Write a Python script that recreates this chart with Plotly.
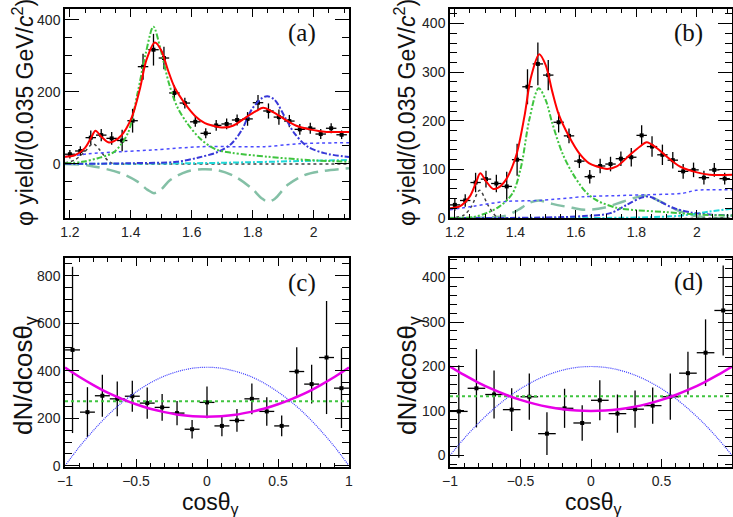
import plotly.graph_objects as go

# ---------------- panels (a),(b): phi yield vs mass ----------------
mass = [1.2000, 1.2343, 1.2686, 1.3029, 1.3372, 1.3715, 1.4058, 1.4401, 1.4744,
        1.5087, 1.5430, 1.5773, 1.6116, 1.6459, 1.6802, 1.7145, 1.7488, 1.7831,
        1.8174, 1.8517, 1.8860, 1.9203, 1.9546, 1.9889, 2.0232, 2.0575, 2.0918]
yield_vals = [27, 36, 73, 80, 71, 65, 120, 270, 317, 294, 197, 169, 117, 85, 107,
              111, 122, 125, 170, 147, 130, 119, 96, 99, 83, 99, 81]
yield_err = [12, 13, 20, 17, 18, 30, 33, 36, 44, 31, 21, 15, 14, 14, 15,
             15, 15, 19, 21, 21, 21, 17, 15, 15, 14, 14, 12]
bin_half = 0.0172

# total fit (red)
fit_x = [1.184, 1.216, 1.249, 1.271, 1.284, 1.304, 1.326, 1.342, 1.369, 1.402, 1.43,
         1.451, 1.479, 1.5, 1.522, 1.544, 1.577, 1.61, 1.643, 1.67, 1.703, 1.735,
         1.779, 1.812, 1.834, 1.867, 1.899, 1.943, 1.987, 2.042, 2.116]
fit_y = [20, 24, 44, 75, 92, 75, 60, 62, 79, 127, 209, 288, 337, 315, 260, 212, 168,
         134, 113, 106, 101, 106, 130, 147, 156, 144, 127, 106, 96, 89, 89]

# (a) components
ga_x = [1.184, 1.24, 1.292, 1.346, 1.39, 1.422, 1.449, 1.474, 1.498, 1.525, 1.552,
        1.585, 1.628, 1.677, 1.731, 1.85, 1.98, 2.116]
ga_y = [1, 6, 16, 34, 85, 196, 307, 381, 317, 224, 159, 113, 70, 41, 31, 20, 11, 6]
ba_x = [1.184, 1.4, 1.55, 1.623, 1.688, 1.731, 1.764, 1.796, 1.829, 1.848, 1.872,
        1.905, 1.937, 1.98, 2.035, 2.116]
ba_y = [0, 2, 6, 18, 34, 57, 94, 150, 182, 188, 178, 131, 85, 48, 30, 19]
bga_x = [1.184, 1.26, 1.368, 1.476, 1.634, 1.731, 1.84, 1.948, 2.116]
bga_y = [20, 28, 34, 39, 48, 48, 48, 56, 59]
ka_x = [1.184, 1.216, 1.249, 1.276, 1.298, 1.325, 1.346, 1.4, 2.116]
ka_y = [3, 11, 34, 56, 39, 9, 0, 0, 0]
ia_x = [1.184, 1.26, 1.368, 1.422, 1.455, 1.476, 1.498, 1.53, 1.585, 1.634, 1.688,
        1.742, 1.797, 1.829, 1.85, 1.872, 1.915, 1.97, 2.035, 2.116]
ia_y = [0, -4, -26, -49, -72, -81, -72, -44, -21, -15, -18, -35, -68, -95, -105, -97,
        -58, -31, -19, -12]
ca_x = [1.184, 1.6, 1.8, 2.0, 2.116]
ca_y = [0, 2, 5, 9, 11]

# (b) components
gb_x = [1.184, 1.26, 1.304, 1.348, 1.391, 1.419, 1.446, 1.477, 1.5, 1.522, 1.555,
        1.588, 1.632, 1.67, 1.735, 1.8, 1.899, 2.01, 2.116]
gb_y = [0, 2, 10, 24, 51, 106, 202, 267, 243, 195, 134, 93, 54, 36, 21, 16, 12, 7, 5]
bb_x = [1.184, 1.5, 1.626, 1.714, 1.768, 1.817, 1.844, 1.877, 1.921, 1.976, 2.042, 2.116]
bb_y = [0, 1, 4, 10, 27, 42, 44, 34, 21, 12, 7, 5]
bgb_x = [1.184, 1.26, 1.369, 1.478, 1.632, 1.735, 1.844, 1.954, 1.998, 2.116]
bgb_y = [17, 24, 34, 36, 44, 46, 48, 51, 57, 58]
kb_x = [1.184, 1.23, 1.255, 1.282, 1.309, 1.337, 1.36, 2.116]
kb_y = [0, 6, 24, 57, 27, 3, 0, 0]
ib_x = [1.184, 1.3, 1.369, 1.41, 1.446, 1.478, 1.522, 1.588, 1.63, 1.692, 1.757,
        1.823, 1.844, 1.888, 1.932, 1.987, 2.06, 2.116]
ib_y = [0, 1, 5, 17, 31, 36, 29, 21, 17, 21, 34, 46, 44, 31, 17, 5, 0, 0]
cb_x = [1.184, 1.8, 1.95, 2.04, 2.116]
cb_y = [0, 1, 5, 13, 19]

# ---------------- panel (c) ----------------
cos_c = [-0.947, -0.842, -0.737, -0.632, -0.526, -0.421, -0.316, -0.211, -0.105, 0.0,
         0.105, 0.211, 0.316, 0.421, 0.526, 0.632, 0.737, 0.842, 0.947]
dn_c = [488, 226, 295, 282, 293, 264, 246, 222, 154, 267, 168, 191, 282, 229, 168,
        397, 344, 456, 327]
err_c = [350, 105, 88, 73, 65, 66, 56, 51, 39, 67, 44, 48, 65, 60, 44, 102, 82, 238, 168]
half_c = 0.0526

# ---------------- panel (d) ----------------
cos_d = [-0.9375, -0.8125, -0.6875, -0.5625, -0.4375, -0.3125, -0.1875, -0.0625,
         0.0625, 0.1875, 0.3125, 0.4375, 0.5625, 0.6875, 0.8125, 0.9375]
dn_d = [99, 151, 137, 103, 132, 49, 106, 73, 124, 94, 104, 112, 132, 185, 231, 326]
err_d = [104, 88, 54, 48, 52, 48, 44, 40, 45, 43, 42, 41, 52, 48, 75, 101]
half_d = 0.0625

# angular curves
cgrid = [-1.0, -0.9, -0.8, -0.7, -0.6, -0.5, -0.4, -0.3, -0.2, -0.1, 0.0,
         0.1, 0.2, 0.3, 0.4, 0.5, 0.6, 0.7, 0.8, 0.9, 1.0]
mag_c = [414, 375, 340, 308, 282, 259, 240, 226, 215, 209, 207,
         209, 215, 226, 240, 259, 282, 308, 340, 375, 414]
blu_c = [0, 79, 149, 212, 266, 311, 349, 378, 398, 411, 415,
         411, 398, 378, 349, 311, 266, 212, 149, 79, 0]
flat_c = 272
mag_d = [200, 181, 164, 149, 136, 125, 116, 109, 104, 101, 100,
         101, 104, 109, 116, 125, 136, 149, 164, 181, 200]
blu_d = [0, 38, 72, 102, 128, 150, 168, 182, 192, 198, 200,
         198, 192, 182, 168, 150, 128, 102, 72, 38, 0]
flat_d = 133

# ---------------- styles ----------------
GREEN = "#3fc43f"
BLUE = "#3838d8"
BLUEDOT = "#4a4aff"
INTER = "#84c0a6"
CYAN = "#1ed8d8"
DDOT = "6px,2px,2px,2px,2px,2px"
DD = "6px,2px,2px,2px"

fig = go.Figure()


def curve(x, y, xa, ya, color, width, dash="solid", shape="spline"):
    fig.add_trace(go.Scatter(x=x, y=y, xaxis=xa, yaxis=ya, mode="lines",
                             line=dict(color=color, width=width, dash=dash, shape=shape,
                                       smoothing=0.9),
                             showlegend=False, hoverinfo="skip"))


def points(x, y, err, half, xa, ya):
    fig.add_trace(go.Scatter(x=x, y=y, xaxis=xa, yaxis=ya, mode="markers",
                             marker=dict(symbol="square", size=4, color="black"),
                             error_y=dict(type="data", array=err, color="black",
                                          thickness=1.3, width=0),
                             error_x=dict(type="constant", value=half, color="black",
                                          thickness=1.3, width=0),
                             showlegend=False))


# panel (a)
points(mass, yield_vals, yield_err, bin_half, "x", "y")
curve(ia_x, ia_y, "x", "y", INTER, 2.5, "14px,7px")
curve(ka_x, ka_y, "x", "y", "#404040", 1.5, "dot")
curve(ca_x, ca_y, "x", "y", CYAN, 2, DD)
curve(bga_x, bga_y, "x", "y", BLUEDOT, 1.5, "dot")
curve(ba_x, ba_y, "x", "y", BLUE, 2, DD)
curve(ga_x, ga_y, "x", "y", GREEN, 2, DDOT)
curve(fit_x, fit_y, "x", "y", "red", 2)

# panel (b)
points(mass, yield_vals, yield_err, bin_half, "x2", "y2")
curve(ib_x, ib_y, "x2", "y2", INTER, 2.5, "14px,7px")
curve(kb_x, kb_y, "x2", "y2", "#404040", 1.5, "dot")
curve(cb_x, cb_y, "x2", "y2", CYAN, 2, DD)
curve(bgb_x, bgb_y, "x2", "y2", BLUEDOT, 1.5, "dot")
curve(bb_x, bb_y, "x2", "y2", BLUE, 2, DD)
curve(gb_x, gb_y, "x2", "y2", GREEN, 2, DDOT)
curve(fit_x, fit_y, "x2", "y2", "red", 2)

# panel (c)
points(cos_c, dn_c, err_c, half_c, "x3", "y3")
curve(cgrid, blu_c, "x3", "y3", "#3a3aff", 1.2, "1px,1px")
curve([-1, 1], [flat_c, flat_c], "x3", "y3", GREEN, 2, "dot", "linear")
curve(cgrid, mag_c, "x3", "y3", "#e800e8", 2.5)

# panel (d)
points(cos_d, dn_d, err_d, half_d, "x4", "y4")
curve(cgrid, blu_d, "x4", "y4", "#3a3aff", 1.2, "1px,1px")
curve([-1, 1], [flat_d, flat_d], "x4", "y4", GREEN, 2, "dot", "linear")
curve(cgrid, mag_d, "x4", "y4", "#e800e8", 2.5)

W, H = 733, 517
TICKFONT = dict(family="Liberation Sans, Arial, sans-serif", size=14, color="#222")


def axis(domain, rng, dtick, tick0, mdtick, ticklen, mlen, anchor):
    return dict(domain=domain, range=rng, dtick=dtick, tick0=tick0, anchor=anchor,
                showline=True, linecolor="black", linewidth=1.5, mirror="ticks",
                ticks="inside", ticklen=ticklen, tickwidth=1.2, tickcolor="black",
                showgrid=False, zeroline=False, tickfont=TICKFONT,
                minor=dict(ticks="inside", ticklen=mlen, tickwidth=1, tickcolor="black",
                           dtick=mdtick, tick0=tick0, showgrid=False),
                automargin=False)


xa_dom = [65 / W, 349 / W]
xb_dom = [450 / W, 732 / W]
top_dom = [1 - 218 / H, 1 - 9 / H]
bot_dom = [1 - 467 / H, 1 - 258 / H]

fig.update_layout(
    width=W, height=H, margin=dict(l=0, r=0, t=0, b=0),
    paper_bgcolor="white", plot_bgcolor="white", showlegend=False,
    xaxis=axis(xa_dom, [1.184, 2.116], 0.2, 1.2, 0.05, 8, 4, "y"),
    yaxis=axis(top_dom, [-150, 430], 200, 0, 50, 14, 7, "x"),
    xaxis2=axis(xb_dom, [1.184, 2.116], 0.2, 1.2, 0.05, 8, 4, "y2"),
    yaxis2=axis(top_dom, [0, 430], 100, 0, 20, 14, 7, "x2"),
    xaxis3=axis(xa_dom, [-1, 1], 0.5, 0, 0.1, 8, 4, "y3"),
    yaxis3=axis(bot_dom, [-5, 875], 200, 0, 50, 14, 7, "x3"),
    xaxis4=axis(xb_dom, [-1, 1], 0.5, 0, 0.1, 8, 4, "y4"),
    yaxis4=axis(bot_dom, [-26, 444], 100, 0, 20, 14, 7, "x4"),
)

TITLEFONT = dict(family="Liberation Sans, Arial, sans-serif", size=23, color="#111")
LABELFONT = dict(family="Liberation Serif, Times New Roman, serif", size=25, color="#111")
ann = []
ytitle_top = "φ yield/(0.035 GeV/<i>c</i><sup>2</sup>)"
ytitle_bot = "dN/dcosθ<sub>γ</sub>"
xtitle_bot = "cosθ<sub>γ</sub>"
for x, y, t, ang, f in [
    (23, 113, ytitle_top, -90, TITLEFONT),
    (405, 113, ytitle_top, -90, TITLEFONT),
    (24, 375, ytitle_bot, -90, dict(TITLEFONT, size=26)),
    (408, 375, ytitle_bot, -90, dict(TITLEFONT, size=26)),
    (210, 503, xtitle_bot, 0, dict(TITLEFONT, size=23)),
    (593, 503, xtitle_bot, 0, dict(TITLEFONT, size=23)),
    (302, 33, "(a)", 0, LABELFONT),
    (688, 33, "(b)", 0, LABELFONT),
    (302, 283, "(c)", 0, LABELFONT),
    (688, 282, "(d)", 0, LABELFONT),
]:
    ann.append(dict(x=x / W, y=1 - y / H, xref="paper", yref="paper", text=t,
                    showarrow=False, textangle=ang, font=f,
                    xanchor="center", yanchor="middle"))
fig.update_layout(annotations=ann)

fig.write_html("out.html", config={"displayModeBar": False},
               post_script="document.body.style.margin='0px';"
                           "document.body.style.overflow='hidden';")
